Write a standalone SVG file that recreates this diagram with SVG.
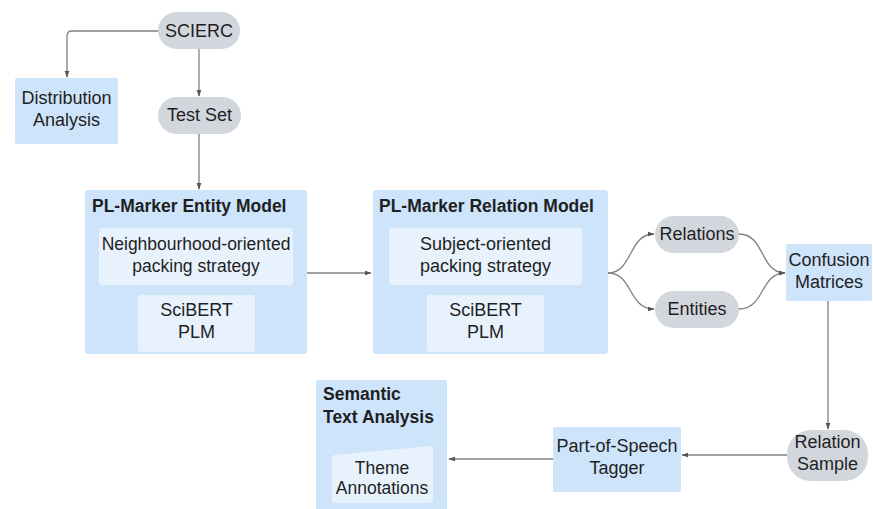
<svg xmlns="http://www.w3.org/2000/svg" width="873" height="509" viewBox="0 0 873 509">
<defs>
<style>
text{font-family:"Liberation Sans",Arial,sans-serif;font-size:17.5px;fill:#1f1f1f;}
.l{font-size:18px;}
.c{text-anchor:middle;}
.b{font-weight:bold;}
.blue{fill:#cde4fb;}
.inner{fill:#e7f2fd;}
.gray{fill:#d2d7dd;}
.edge{fill:none;stroke:#808080;stroke-width:1.3;}
</style>
<marker id="arr" viewBox="0 0 10 10" refX="9" refY="5" markerWidth="7" markerHeight="7" orient="auto" markerUnits="userSpaceOnUse">
<path d="M0,1.5 L10,5 L0,8.5 z" fill="#555"/>
</marker>
</defs>
<rect width="873" height="509" fill="#fff"/>

<g id="connectors">
<path class="edge" d="M158,31 L72,31 Q67,31 67,36 L67,77" marker-end="url(#arr)"/>
<path class="edge" d="M199,49 L199,96" marker-end="url(#arr)"/>
<path class="edge" d="M199,134 L199,189" marker-end="url(#arr)"/>
<path class="edge" d="M307,273 L371,273" marker-end="url(#arr)"/>
<path class="edge" d="M608,273 C633,273 628,234 654,234" marker-end="url(#arr)"/>
<path class="edge" d="M608,273 C633,273 628,309 654,309" marker-end="url(#arr)"/>
<path class="edge" d="M739,234 C765,234 760,273 785,273" marker-end="url(#arr)"/>
<path class="edge" d="M739,309 C765,309 760,273 785,273" marker-end="url(#arr)"/>
<path class="edge" d="M828,301 L828,429" marker-end="url(#arr)"/>
<path class="edge" d="M787,455 L682,455" marker-end="url(#arr)"/>
<path class="edge" d="M553,459 L449,459" marker-end="url(#arr)"/>
</g>

<g id="scierc">
<rect class="gray" x="158" y="12" width="82" height="37" rx="18.5"/>
<text class="c l" x="199" y="37">SCIERC</text>
</g>

<g id="distribution">
<rect class="blue" x="15" y="78" width="103" height="66" rx="2"/>
<text class="c l" x="66.5" y="104">Distribution</text>
<text class="c l" x="66.5" y="126">Analysis</text>
</g>

<g id="testset">
<rect class="gray" x="158" y="97" width="83" height="37" rx="18.5"/>
<text class="c l" x="199.5" y="121">Test Set</text>
</g>

<g id="entity-model">
<rect class="blue" x="85" y="190" width="222" height="164" rx="3"/>
<text class="b" x="92" y="212">PL-Marker Entity Model</text>
<rect class="inner" x="99" y="228" width="194" height="57" rx="3"/>
<text class="c" x="196" y="250">Neighbourhood-oriented</text>
<text class="c" x="196" y="272">packing strategy</text>
<rect class="inner" x="138" y="295" width="117" height="57" rx="3"/>
<text class="c l" x="196.5" y="316">SciBERT</text>
<text class="c l" x="196.5" y="338">PLM</text>
</g>

<g id="relation-model">
<rect class="blue" x="373" y="190" width="235" height="164" rx="3"/>
<text class="b" x="379" y="212">PL-Marker Relation Model</text>
<rect class="inner" x="389" y="228" width="193" height="57" rx="3"/>
<text class="c l" x="485.5" y="250">Subject-oriented</text>
<text class="c l" x="485.5" y="272">packing strategy</text>
<rect class="inner" x="427" y="295" width="117" height="57" rx="3"/>
<text class="c l" x="485.5" y="316">SciBERT</text>
<text class="c l" x="485.5" y="338">PLM</text>
</g>

<g id="relations">
<rect class="gray" x="655" y="216" width="84" height="37" rx="18.5"/>
<text class="c l" x="697" y="240">Relations</text>
</g>

<g id="entities">
<rect class="gray" x="655" y="291" width="84" height="37" rx="18.5"/>
<text class="c l" x="697" y="315">Entities</text>
</g>

<g id="confusion">
<rect class="blue" x="786" y="244" width="86" height="57" rx="2"/>
<text class="c l" x="829" y="266">Confusion</text>
<text class="c l" x="829" y="288">Matrices</text>
</g>

<g id="relation-sample">
<rect class="gray" x="787" y="430" width="81" height="51" rx="24"/>
<text class="c l" x="827.5" y="448">Relation</text>
<text class="c l" x="827.5" y="470">Sample</text>
</g>

<g id="pos-tagger">
<rect class="blue" x="553" y="427" width="128" height="65" rx="2"/>
<text class="c l" x="617" y="452">Part-of-Speech</text>
<text class="c l" x="617" y="474">Tagger</text>
</g>

<g id="semantic">
<rect class="blue" x="316" y="380" width="131" height="140" rx="3"/>
<text class="b" x="323" y="400">Semantic</text>
<text class="b" x="323" y="423">Text Analysis</text>
<path class="inner" d="M335,455 L430,446 Q433,446 433,449 L433,500 Q433,503 430,503 L335,503 Q332,503 332,500 L332,458 Q332,455 335,455 z"/>
<text class="c" x="382" y="474">Theme</text>
<text class="c" x="382" y="494">Annotations</text>
</g>
</svg>
